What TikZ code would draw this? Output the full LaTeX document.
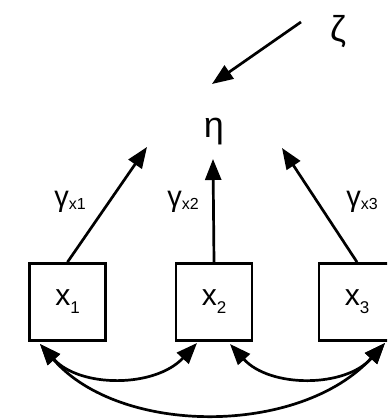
\documentclass[tikz,border=0pt]{standalone}
\usepackage{fontspec}
\setmainfont{Liberation Sans}
\usetikzlibrary{arrows.meta}
\begin{document}
\begin{tikzpicture}[x=1pt,y=-1pt,
  varbox/.style={draw, line width=2.8pt, minimum width=76pt, minimum height=77pt, inner sep=0pt, font=\fontsize{30}{30}\selectfont},
  greek/.style={inner sep=0pt, anchor=base, font=\fontsize{36}{36}\selectfont},
  coef/.style={inner sep=0pt, anchor=base, font=\fontsize{29}{29}\selectfont},
  path1/.style={line width=2.7pt, -{Triangle[length=21pt,width=16pt]}},
  cov/.style={line width=2.7pt, {Triangle[length=21pt,width=16pt]}-{Triangle[length=21pt,width=16pt]}}
]
\clip (0,0) rectangle (387,419);
\useasboundingbox (0,0) rectangle (387,419);
\newcommand{\lowsub}[1]{\raisebox{-8pt}{\fontsize{17}{17}\selectfont #1}}
\newcommand{\gsub}[1]{\raisebox{-3pt}{\fontsize{16}{16}\selectfont #1}}
\node[greek] (zeta) at (338,42) {ζ};
\node[greek] (eta) at (214,138) {η};
\node[varbox] (x1) at (67.5,302) {x\lowsub{1}};
\node[varbox] (x2) at (214,302) {x\lowsub{2}};
\node[varbox] (x3) at (357,302) {x\lowsub{3}};
\node[coef] (g1) at (70,207) {γ\gsub{x1}};
\node[coef] (g2) at (183,207) {γ\gsub{x2}};
\node[coef] (g3) at (362,207) {γ\gsub{x3}};
\coordinate (zs) at (301,22);
\coordinate (zt) at (212,84);
\coordinate (t1) at (147,147);
\coordinate (t2) at (213,159);
\coordinate (t3) at (282,148);
\coordinate (a1) at (40,344);
\coordinate (a2) at (197,343);
\coordinate (b2) at (230,344);
\coordinate (b3) at (385,343);
\draw[path1] (zs) -- (zt);
\draw[path1] (x1.north) -- (t1);
\draw[path1] (x2.north) -- (t2);
\draw[path1] (x3.north) -- (t3);
\draw[cov] (a1) .. controls (80,388) and (155,388) .. (a2);
\draw[cov] (b2) .. controls (270,388) and (345,388) .. (b3);
\draw[cov] (a1) .. controls (120,436) and (300,436) .. (b3);
\end{tikzpicture}
\end{document}
